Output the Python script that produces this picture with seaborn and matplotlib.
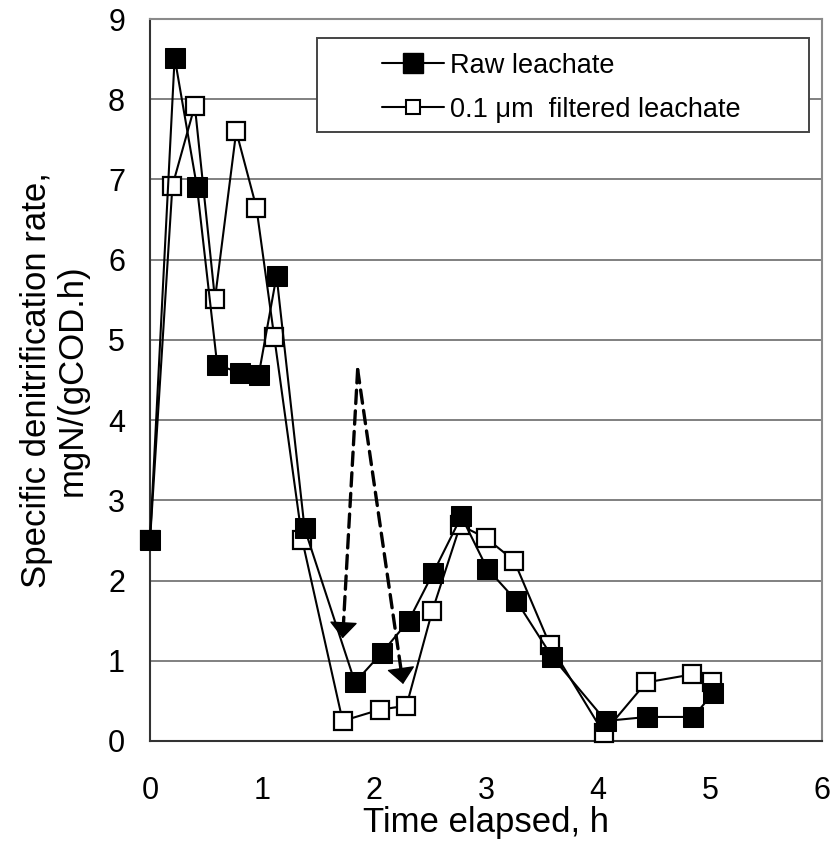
import matplotlib
matplotlib.use("Agg")
import matplotlib.pyplot as plt
import seaborn as sns
import pandas as pd
from matplotlib.lines import Line2D
from matplotlib.patches import Rectangle

# ---- data ----
raw_t = [0.0, 0.22, 0.42, 0.60, 0.80, 0.97, 1.13, 1.38, 1.83, 2.07, 2.31, 2.53,
         2.78, 3.01, 3.27, 3.59, 4.07, 4.44, 4.85, 5.03]
raw_rate = [2.50, 8.52, 6.90, 4.69, 4.59, 4.56, 5.80, 2.65, 0.73, 1.10, 1.50, 2.10,
            2.80, 2.15, 1.75, 1.05, 0.25, 0.30, 0.30, 0.60]

filt_t = [0.0, 0.20, 0.40, 0.58, 0.77, 0.95, 1.11, 1.36, 1.72, 2.05, 2.29, 2.52,
          2.77, 3.00, 3.25, 3.57, 4.05, 4.43, 4.84, 5.02]
filt_rate = [2.50, 6.92, 7.92, 5.51, 7.60, 6.65, 5.03, 2.50, 0.25, 0.39, 0.44, 1.62,
             2.69, 2.53, 2.25, 1.20, 0.10, 0.73, 0.83, 0.74]

arrow_apex = (1.854, 4.63)
arrow_tips = [(1.72, 1.28), (2.26, 0.71)]

series_labels = ["Raw leachate", "0.1 \u03bcm  filtered leachate"]
x_label = "Time elapsed, h"
y_label = "Specific denitrification rate,\nmgN/(gCOD.h)"

raw_df = pd.DataFrame({"t": raw_t, "rate": raw_rate})
filt_df = pd.DataFrame({"t": filt_t, "rate": filt_rate})

sns.set_style("white")
plt.rcParams["font.family"] = ["Liberation Sans", "DejaVu Sans"]
plt.rcParams["text.color"] = "black"
plt.rcParams["axes.labelcolor"] = "black"

fig = plt.figure(figsize=(8.31, 8.44), dpi=100)
ax = fig.add_axes([150 / 831, 1 - 741 / 844, 672 / 831, 722 / 844])

# filtered series (open squares) drawn first
sns.lineplot(data=filt_df, x="t", y="rate", ax=ax, sort=False, color="black",
             lw=1.5, marker="s", markersize=12.5, markerfacecolor="white",
             markeredgecolor="black", markeredgewidth=1.6, zorder=3, clip_on=False)
sns.lineplot(data=raw_df, x="t", y="rate", ax=ax, sort=False, color="black",
             lw=1.5, marker="s", markersize=15, markerfacecolor="black",
             markeredgecolor="black", zorder=4, clip_on=False)

# dashed arrows: dashed shaft + solid filled head
for tip in arrow_tips:
    ax.annotate("", xy=tip, xytext=arrow_apex,
                arrowprops=dict(arrowstyle="-", linestyle=(0, (4, 2.2)), lw=2.4,
                                color="black", shrinkA=0, shrinkB=6),
                zorder=5)
    near = (tip[0] + 0.04 * (arrow_apex[0] - tip[0]),
            tip[1] + 0.04 * (arrow_apex[1] - tip[1]))
    ax.annotate("", xy=tip, xytext=near,
                arrowprops=dict(arrowstyle="-|>,head_length=0.52,head_width=0.45",
                                mutation_scale=20, lw=1, color="black",
                                shrinkA=0, shrinkB=0),
                zorder=5)

ax.set_xlim(0, 6)
ax.set_ylim(0, 9)
ax.set_xticks(range(0, 7))
ax.set_xticks([i + 0.5 for i in range(6)], minor=True)
ax.set_yticks(range(0, 10))
ax.tick_params(axis="both", which="both", direction="out", labelsize=22,
               colors="black", width=1.3)
ax.tick_params(axis="x", which="both", length=8, pad=17)
ax.tick_params(axis="y", which="major", length=9, pad=9)
ax.grid(axis="y", color="#808080", lw=1.4)
ax.grid(axis="x", visible=False)
ax.set_axisbelow(True)

for side in ["top", "right"]:
    ax.spines[side].set_color("#8a8a8a")
    ax.spines[side].set_linewidth(1.5)
for side in ["left", "bottom"]:
    ax.spines[side].set_color("#333333")
    ax.spines[side].set_linewidth(1.5)

ax.set_xlabel(x_label, fontsize=25, labelpad=0, color="black")
ax.set_ylabel(y_label, fontsize=25, labelpad=14, linespacing=1.1, color="black")

# legend frame + legend
frame = Rectangle((0.2485, 0.8435), 0.7315, 0.1302, transform=ax.transAxes,
                  facecolor="white", edgecolor="#444444", lw=1.4, zorder=6)
ax.add_patch(frame)
handles = [
    Line2D([], [], color="black", lw=1.5, marker="s", markersize=15,
           markerfacecolor="black", markeredgecolor="black"),
    Line2D([], [], color="black", lw=1.5, marker="s", markersize=10,
           markerfacecolor="white", markeredgecolor="black", markeredgewidth=1.5),
]
leg = ax.legend(handles, series_labels, loc="center left",
                bbox_to_anchor=(0.345, 0.905), frameon=False, fontsize=19.5,
                handlelength=2.29, handletextpad=0.22, labelspacing=0.66,
                borderpad=0, borderaxespad=0)
leg.set_zorder(7)

fig.savefig("out.png", dpi=100)
